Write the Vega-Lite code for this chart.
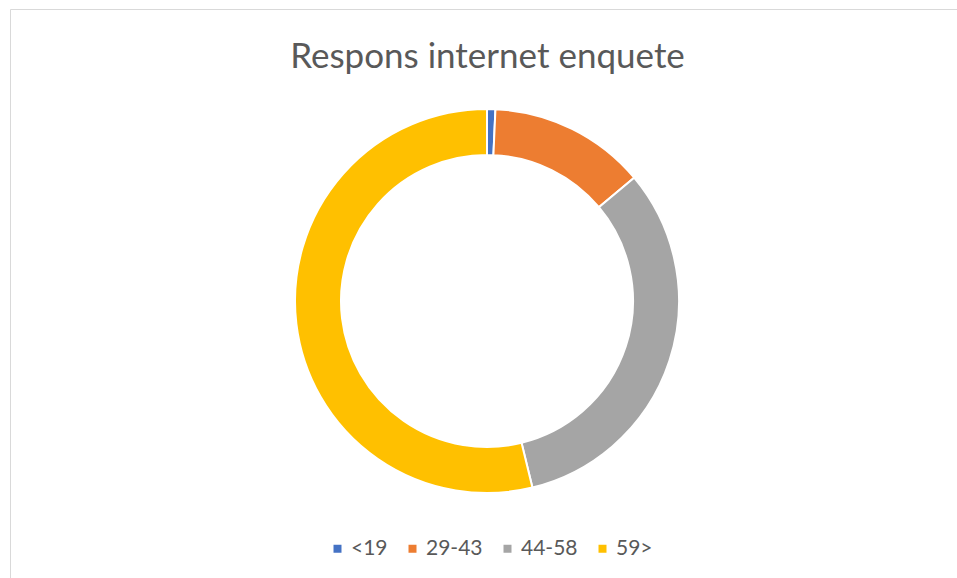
{
  "$schema": "https://vega.github.io/schema/vega-lite/v6.json",
  "width": 947,
  "height": 569,
  "autosize": "none",
  "padding": {"left": 10, "top": 9, "right": 0, "bottom": 0},
  "background": "white",
  "view": {"stroke": "#d9d9d9", "strokeWidth": 1, "fill": "white"},
  "config": {
    "view": {"stroke": "#d9d9d9", "strokeWidth": 1},
    "font": "Lato"
  },
  "title": {
    "text": "Respons internet enquete",
    "orient": "top",
    "anchor": "middle",
    "frame": "group",
    "baseline": "alphabetic",
    "offset": -94,
    "dx": 4,
    "font": "Lato",
    "fontSize": 35,
    "fontWeight": "normal",
    "color": "#595959"
  },
  "data": {
    "values": [
      {"leeftijd": "<19", "aandeel": 0.7, "volgorde": 1},
      {"leeftijd": "29-43", "aandeel": 13.2, "volgorde": 2},
      {"leeftijd": "44-58", "aandeel": 32.3, "volgorde": 3},
      {"leeftijd": "59>", "aandeel": 53.8, "volgorde": 4}
    ]
  },
  "mark": {
    "type": "arc",
    "innerRadius": 146,
    "outerRadius": 192,
    "stroke": "white",
    "strokeWidth": 2,
    "x": {"expr": "width/2+3.5"},
    "y": {"expr": "height/2+7.5"}
  },
  "encoding": {
    "theta": {"field": "aandeel", "type": "quantitative", "stack": true},
    "order": {"field": "volgorde", "type": "quantitative"},
    "color": {
      "field": "leeftijd",
      "type": "nominal",
      "scale": {
        "domain": ["<19", "29-43", "44-58", "59>"],
        "range": ["#4472c4", "#ed7d31", "#a5a5a5", "#ffc000"]
      },
      "legend": {
        "title": null,
        "orient": "none",
        "direction": "horizontal",
        "legendX": 317,
        "legendY": 529,
        "symbolType": "square",
        "symbolSize": 64,
        "symbolStrokeWidth": 0,
        "labelFont": "Lato",
        "labelFontSize": 21,
        "labelColor": "#595959",
        "labelOffset": 3,
        "columnPadding": 14
      }
    }
  }
}
